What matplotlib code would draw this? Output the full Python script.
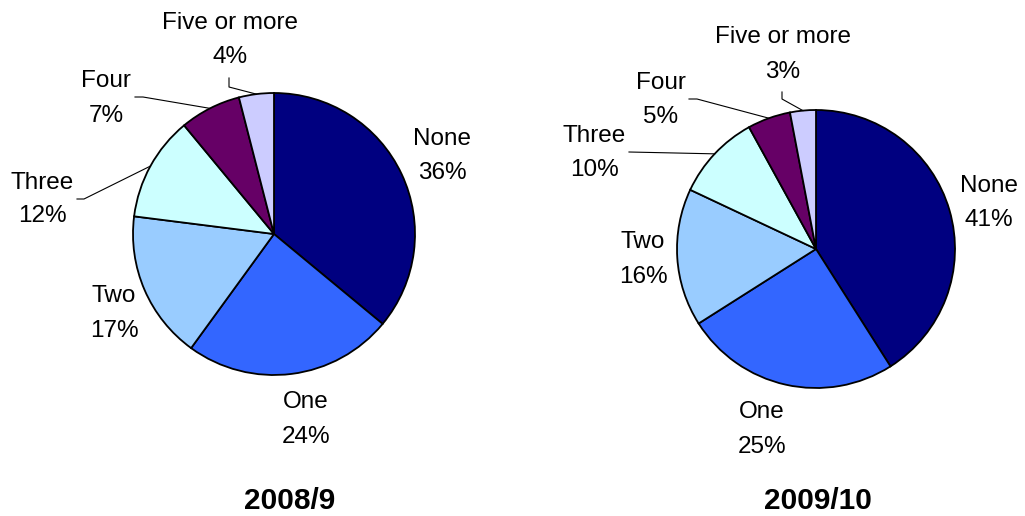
import numpy as np
import matplotlib
matplotlib.use("Agg")
import matplotlib.pyplot as plt

categories = ["None", "One", "Two", "Three", "Four", "Five or more"]
values_2008 = [36, 24, 17, 12, 7, 4]
values_2009 = [41, 25, 16, 10, 5, 3]
titles = ["2008/9", "2009/10"]
colors = ["#000080", "#3366FF", "#99CCFF", "#CCFFFF", "#660066", "#CCCCFF"]

W, H = 1025, 516
plt.rcParams["font.family"] = ["Liberation Sans", "DejaVu Sans"]

fig = plt.figure(figsize=(W / 100, H / 100), dpi=100)
ax = fig.add_axes([0, 0, 1, 1])
ax.set_xlim(0, W)
ax.set_ylim(0, H)
ax.axis("off")


def Y(y):
    return H - y


# layout per pie: center, radius, label positions (x, baseline name, baseline pct), leader elbows
pies = [
    dict(values=values_2008, center=(274, 234), radius=141, title_pos=(290, 509),
         labels=[(442, 145, 179), (306, 408, 443), (114, 302, 337), (42, 189, 222),
                 (106, 87, 122), (230, 29, 63)],
         leaders={3: [(77, 199), (84, 199)], 4: [(135, 97), (143, 97)], 5: [(229, 78), (229, 87)]}),
    dict(values=values_2009, center=(816, 249), radius=139, title_pos=(818, 509),
         labels=[(989, 192, 226), (762, 418, 453), (643, 248, 283), (594, 142, 176),
                 (661, 89, 123), (783, 43, 78)],
         leaders={3: [(629, 152)], 4: [(689, 99), (697, 99)], 5: [(782, 92), (782, 99)]}),
]

fs = 17.5
for p, title in zip(pies, titles):
    cx, cy = p["center"]
    r = p["radius"]
    wedges, _ = ax.pie(p["values"], colors=colors, startangle=90, counterclock=False,
                       center=(cx, Y(cy)), radius=r, frame=True,
                       wedgeprops=dict(edgecolor="black", linewidth=1.3))
    vals = np.array(p["values"], dtype=float)
    for i, (name, v) in enumerate(zip(categories, p["values"])):
        lx, b1, b2 = p["labels"][i]
        ax.text(lx, Y(b1), name, ha="center", va="baseline", fontsize=fs, color="black")
        ax.text(lx, Y(b2), f"{v}%", ha="center", va="baseline", fontsize=fs, color="black")
        if i in p["leaders"]:
            w = wedges[i]
            mid = np.deg2rad((w.theta1 + w.theta2) / 2)
            ex = cx + r * np.cos(mid)
            ey = Y(cy) + r * np.sin(mid)
            pts = p["leaders"][i]
            xs = [q[0] for q in pts] + [ex]
            ys = [Y(q[1]) for q in pts] + [ey]
            ax.plot(xs, ys, color="black", linewidth=0.8)
    tx, tb = p["title_pos"]
    ax.text(tx, Y(tb), title, ha="center", va="baseline", fontsize=21.5,
            fontweight="bold", color="black")

ax.set_xlim(0, W)
ax.set_ylim(0, H)
ax.set_aspect("auto")
ax.axis("off")
fig.savefig("out.png", dpi=100)
